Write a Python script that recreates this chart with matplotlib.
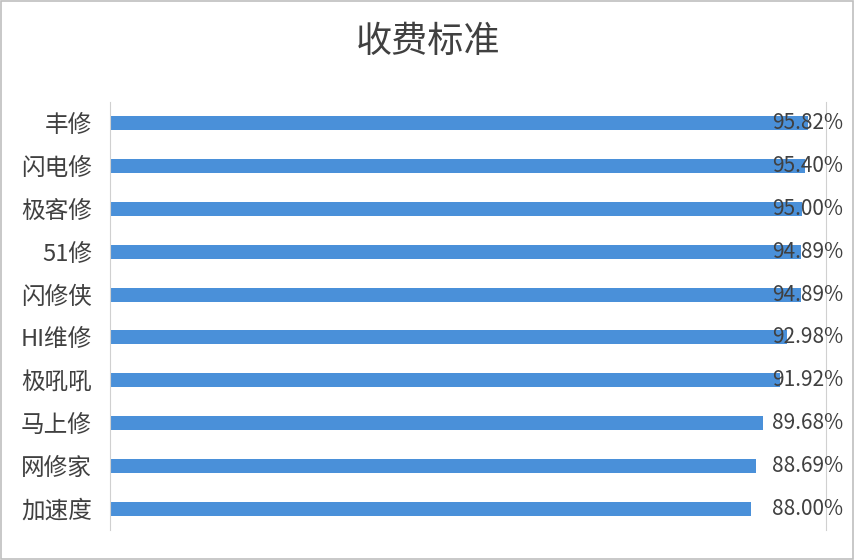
import matplotlib
matplotlib.use('Agg')
import matplotlib.pyplot as plt
from matplotlib.patches import Rectangle

plt.rcParams['font.family'] = ['Noto Sans CJK SC', 'DejaVu Sans']

# 数据
platforms = ['丰修', '闪电修', '极客修', '51修', '闪修侠', 'HI维修', '极吼吼', '马上修', '网修家', '加速度']
rates = [95.82, 95.40, 95.00, 94.89, 94.89, 92.98, 91.92, 89.68, 88.69, 88.00]
title = '收费标准'

bar_color = '#4a90d9'
text_color = '#404040'

fig = plt.figure(figsize=(8.56, 5.6), dpi=100)
ax = fig.add_axes([110 / 856, 1 - 530 / 560, 716 / 856, 428 / 560])

y_pos = list(range(len(platforms)))
ax.barh(y_pos, rates, height=0.33, color=bar_color, zorder=2)
ax.set_ylim(len(platforms) - 0.5, -0.5)
ax.set_xlim(0, 98.3)
ax.set_yticks(y_pos)
ax.set_yticklabels(platforms, fontsize=17, color=text_color, fontweight='light')
ax.tick_params(axis='y', length=0, pad=13)
ax.set_xticks([])

for s in ['top', 'bottom']:
    ax.spines[s].set_visible(False)
ax.spines['left'].set_color('#d0d0d0')
ax.spines['right'].set_color('#d0d0d0')

# 数值标签
for i, v in enumerate(rates):
    ax.text(1.024, i, '{:.2f}%'.format(v), transform=ax.get_yaxis_transform(),
            ha='right', va='center', fontsize=15, color=text_color, fontweight='light',
            clip_on=False, zorder=3)

fig.text(0.5, 1 - 42 / 560, title, ha='center', va='center', fontsize=26,
         color=text_color, fontweight='light')

# 外框
fig.patches.append(Rectangle((0.001, 0.002), 0.996, 0.996, transform=fig.transFigure,
                             fill=False, edgecolor='#bfbfbf', linewidth=1.2))

fig.savefig('out.png', dpi=100)
